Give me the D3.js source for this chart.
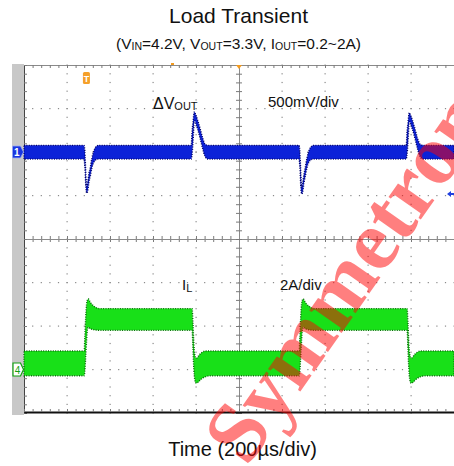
<!DOCTYPE html>
<html>
<head>
<meta charset="utf-8">
<script src="https://cdn.jsdelivr.net/npm/d3@7"></script>
<style>
  body { margin: 0; background: #fff; }
  svg { display: block; font-family: "Liberation Sans", Arial, sans-serif; }
</style>
</head>
<body>
<div id="chart"></div>
<script>
// scope settings
const timePerDiv = 200;   // µs / div
const voutPerDiv = 0.5;   // V / div
const ilPerDiv = 2;       // A / div
const voutOffsetDiv = 2;  // CH1 ground marker position
const ilOffsetDiv = -3;   // CH4 ground marker position

// ΔVout envelope (V)
const voutTime  = [0, 279, 283, 288, 292, 296, 302, 309, 316, 326, 337, 347,
                   778, 781, 786, 792, 795, 800, 807, 819, 830, 842, 856,
                   1279, 1283, 1288, 1292, 1296, 1302, 1309, 1316, 1326, 1337, 1347,
                   1778, 1781, 1786, 1792, 1795, 1800, 1807, 1819, 1830, 1842, 1856, 2000];
const voutUpper = [0.065, 0.065, 0.0, -0.28, -0.41, -0.36, -0.26, -0.18, -0.08, 0.01, 0.055, 0.065,
                   0.065, 0.2, 0.33, 0.45, 0.44, 0.41, 0.36, 0.26, 0.16, 0.08, 0.065,
                   0.065, 0.0, -0.28, -0.42, -0.37, -0.27, -0.18, -0.08, 0.01, 0.055, 0.065,
                   0.065, 0.2, 0.33, 0.44, 0.43, 0.40, 0.35, 0.25, 0.15, 0.08, 0.065, 0.065];
const voutLower = [-0.07, -0.07, -0.16, -0.40, -0.46, -0.44, -0.34, -0.26, -0.17, -0.10, -0.075, -0.07,
                   -0.07, -0.03, 0.12, 0.36, 0.37, 0.33, 0.28, 0.17, 0.06, -0.04, -0.07,
                   -0.07, -0.16, -0.41, -0.47, -0.45, -0.35, -0.26, -0.17, -0.10, -0.075, -0.07,
                   -0.07, -0.03, 0.12, 0.35, 0.36, 0.32, 0.27, 0.16, 0.05, -0.04, -0.07, -0.07];

// inductor current envelope (A)
const ilTime  = [0, 280, 283, 287, 291, 295, 299, 305, 315, 330, 350,
                 782, 786, 790, 794, 798, 802, 808, 818, 830, 845, 865,
                 1280, 1283, 1287, 1291, 1295, 1299, 1305, 1315, 1330, 1350,
                 1782, 1786, 1790, 1794, 1798, 1802, 1808, 1818, 1830, 1845, 1865, 2000];
const ilUpper = [0.85, 0.85, 1.5, 2.4, 3.0, 3.2, 3.25, 3.15, 3.0, 2.88, 2.8,
                 2.8, 2.1, 1.2, 0.7, 0.55, 0.52, 0.58, 0.7, 0.8, 0.85, 0.85,
                 0.85, 1.5, 2.4, 3.0, 3.2, 3.25, 3.15, 3.0, 2.88, 2.8,
                 2.8, 2.1, 1.2, 0.7, 0.55, 0.52, 0.58, 0.7, 0.8, 0.85, 0.85, 0.85];
const ilLower = [-0.29, -0.29, -0.1, 0.6, 1.3, 1.85, 1.95, 1.9, 1.85, 1.82, 1.8,
                 1.8, 0.9, 0.0, -0.45, -0.6, -0.63, -0.6, -0.5, -0.4, -0.33, -0.29,
                 -0.29, -0.1, 0.6, 1.3, 1.85, 1.95, 1.9, 1.85, 1.82, 1.8,
                 1.8, 0.9, 0.0, -0.45, -0.6, -0.63, -0.6, -0.5, -0.4, -0.33, -0.29, -0.29];

const triggerTime = 288;

const width = 454, height = 466;
const svg = d3.select("#chart").append("svg")
  .attr("width", width)
  .attr("height", height);

// screen scales: 10 horizontal divisions, 8 vertical
const x = d3.scaleLinear().domain([0, 10 * timePerDiv]).range([24, 454]);
const y = d3.scaleLinear().domain([-4, 4]).range([413, 65]);
const yV = v => y(voutOffsetDiv + v / voutPerDiv);
const yI = a => y(ilOffsetDiv + a / ilPerDiv);

// left grey strip
svg.append("rect")
  .attr("x", 12).attr("y", 64)
  .attr("width", 12).attr("height", 351)
  .attr("fill", "#c8c8c8");

const grid = svg.append("g");

// dotted division grid
const minorT = d3.range(0, 10 * timePerDiv + 1, timePerDiv / 5);
const minorD = d3.range(-4, 4.01, 0.2);
const vLines = d3.range(1, 10).filter(i => i !== 5).map(i => i * timePerDiv);
const hLines = [-3, -2, -1, 1, 2, 3];

vLines.forEach(t => {
  grid.selectAll(null).data(minorD).enter().append("rect")
    .attr("x", x(t) - 0.5).attr("y", d => y(d) - 0.5)
    .attr("width", 1.2).attr("height", 1.2)
    .attr("fill", "#8a8a8a");
});
hLines.forEach(dv => {
  grid.selectAll(null).data(minorT).enter().append("rect")
    .attr("x", d => x(d) - 0.5).attr("y", y(dv) - 0.5)
    .attr("width", 1.2).attr("height", 1.2)
    .attr("fill", "#8a8a8a");
});

// centre cross with minor ticks
const tickAxis = (g, axis) => {
  g.call(axis);
  g.select(".domain").attr("stroke", "#8a8a8a");
  g.selectAll(".tick line").attr("stroke", "#7a7a7a");
};
grid.append("g").attr("transform", `translate(0,${y(0)})`)
  .call(g => tickAxis(g, d3.axisBottom(x).tickValues(minorT).tickSize(3).tickSizeOuter(0).tickFormat("")));
grid.append("g").attr("transform", `translate(0,${y(0)})`)
  .call(g => tickAxis(g, d3.axisTop(x).tickValues(minorT).tickSize(3).tickSizeOuter(0).tickFormat("")));
grid.append("g").attr("transform", `translate(${x(1000)},0)`)
  .call(g => tickAxis(g, d3.axisLeft(y).tickValues(minorD).tickSize(3).tickSizeOuter(0).tickFormat("")));
grid.append("g").attr("transform", `translate(${x(1000)},0)`)
  .call(g => tickAxis(g, d3.axisRight(y).tickValues(minorD).tickSize(3).tickSizeOuter(0).tickFormat("")));

// screen borders
grid.append("g").attr("transform", `translate(0,${y(4)})`)
  .call(g => tickAxis(g, d3.axisBottom(x).tickValues(minorT).tickSize(3).tickSizeOuter(0).tickFormat("")));
grid.append("g").attr("transform", `translate(${x(0)},0)`)
  .call(g => tickAxis(g, d3.axisRight(y).tickValues(minorD).tickSize(3).tickSizeOuter(0).tickFormat("")))
  .call(g => g.select(".domain").attr("stroke", "#444"));
grid.append("g").attr("transform", `translate(0,${y(-4) - 1})`)
  .call(g => tickAxis(g, d3.axisTop(x).tickValues(minorT).tickSize(3).tickSizeOuter(0).tickFormat("")))
  .call(g => g.select(".domain").attr("stroke", "#111").attr("stroke-width", 2.2));

// traces
const vout = voutTime.map((t, i) => ({t, hi: voutUpper[i], lo: voutLower[i]}));
const il = ilTime.map((t, i) => ({t, hi: ilUpper[i], lo: ilLower[i]}));

const voutArea = d3.area().x(d => x(d.t)).y0(d => yV(d.lo) + 1).y1(d => yV(d.hi) - 1)
  .curve(d3.curveMonotoneX);
const ilArea = d3.area().x(d => x(d.t)).y0(d => yI(d.lo)).y1(d => yI(d.hi))
  .curve(d3.curveMonotoneX);

svg.append("path").datum(il)
  .attr("d", ilArea)
  .attr("fill", "#18e018")
  .attr("stroke", "#0a6a0a")
  .attr("stroke-width", 1.4)
  .attr("stroke-dasharray", "1 1.4");

svg.append("path").datum(vout)
  .attr("d", voutArea)
  .attr("fill", "#0c22d8")
  .attr("stroke", "#000066")
  .attr("stroke-width", 1.4)
  .attr("stroke-dasharray", "1 1.4");

// markers
svg.append("path")
  .attr("d", `M${x(1000) - 3},${y(4)} L${x(1000) + 3},${y(4)} L${x(1000)},${y(4) + 4} Z`)
  .attr("fill", "#f39a1e");
svg.append("rect")
  .attr("x", 171).attr("y", 63).attr("width", 3).attr("height", 2)
  .attr("fill", "#f39a1e");
svg.append("rect")
  .attr("x", x(triggerTime) - 3).attr("y", 72).attr("width", 7).attr("height", 12).attr("rx", 1.5)
  .attr("fill", "#f5a02a");
svg.append("text")
  .attr("x", x(triggerTime) + 0.5).attr("y", 82)
  .attr("text-anchor", "middle").attr("font-size", 9).attr("font-weight", "bold")
  .attr("fill", "#fff").text("T");

const y1 = yV(0), y4 = yI(0);
svg.append("path")
  .attr("d", `M12.5,${y1 - 6} L20.5,${y1 - 6} L23.5,${y1} L20.5,${y1 + 6} L12.5,${y1 + 6} Z`)
  .attr("fill", "#1835e0").attr("stroke", "#9aaaf5").attr("stroke-width", 0.8);
svg.append("text")
  .attr("x", 16.8).attr("y", y1 + 4).attr("text-anchor", "middle")
  .attr("font-size", 10).attr("font-weight", "bold").attr("fill", "#fff").text("1");
svg.append("path")
  .attr("d", `M13,${y4 - 6.5} L20.5,${y4 - 6.5} L23.5,${y4} L20.5,${y4 + 6.5} L13,${y4 + 6.5} Z`)
  .attr("fill", "#fff").attr("stroke", "#10a010").attr("stroke-width", 1.2);
svg.append("text")
  .attr("x", 17.5).attr("y", y4 + 4).attr("text-anchor", "middle")
  .attr("font-size", 10).attr("fill", "#10a010").text("4");

// CH1 offset arrow at the right edge
svg.append("path")
  .attr("d", "M447,194 L451,191 L451,193 L454,193 L454,195 L451,195 L451,197 Z")
  .attr("fill", "#2040e0");

// labels
svg.append("text")
  .attr("x", 238.5).attr("y", 23)
  .attr("text-anchor", "middle").attr("font-size", 21).attr("fill", "#111")
  .text("Load Transient");

const sub = svg.append("text")
  .attr("x", 238.5).attr("y", 48.5)
  .attr("text-anchor", "middle").attr("font-size", 15.5).attr("fill", "#111");
[["(V", false], ["IN", true], ["=4.2V, V", false], ["OUT", true],
 ["=3.3V, I", false], ["OUT", true], ["=0.2~2A)", false]].forEach(([s, isSub]) => {
  sub.append("tspan")
    .attr("font-size", isSub ? 10.5 : 15.5)
    .attr("baseline-shift", isSub ? "-1" : null)
    .text(s);
});

const vLabel = svg.append("text")
  .attr("x", 153).attr("y", 109).attr("font-size", 16).attr("fill", "#111");
vLabel.append("tspan").text("ΔV");
vLabel.append("tspan").attr("font-size", 11).attr("baseline-shift", "-1").text("OUT");

svg.append("text")
  .attr("x", 268).attr("y", 107).attr("font-size", 15).attr("fill", "#111")
  .text("500mV/div");

const iLabel = svg.append("text")
  .attr("x", 182).attr("y", 290).attr("font-size", 15).attr("fill", "#111");
iLabel.append("tspan").text("I");
iLabel.append("tspan").attr("font-size", 11).attr("baseline-shift", "-2").text("L");

svg.append("text")
  .attr("x", 280).attr("y", 290).attr("font-size", 15).attr("fill", "#111")
  .text("2A/div");

svg.append("text")
  .attr("x", 242.5).attr("y", 456)
  .attr("text-anchor", "middle").attr("font-size", 20).attr("fill", "#111")
  .text("Time (200µs/div)");

// watermark
svg.append("text")
  .attr("transform", "translate(247,468) rotate(-55)")
  .attr("font-family", "Liberation Serif, Times New Roman, serif")
  .attr("font-weight", "bold").attr("font-size", 86)
  .attr("fill", "#ff0000").attr("fill-opacity", 0.5)
  .text("Symmetron");
</script>
</body>
</html>
